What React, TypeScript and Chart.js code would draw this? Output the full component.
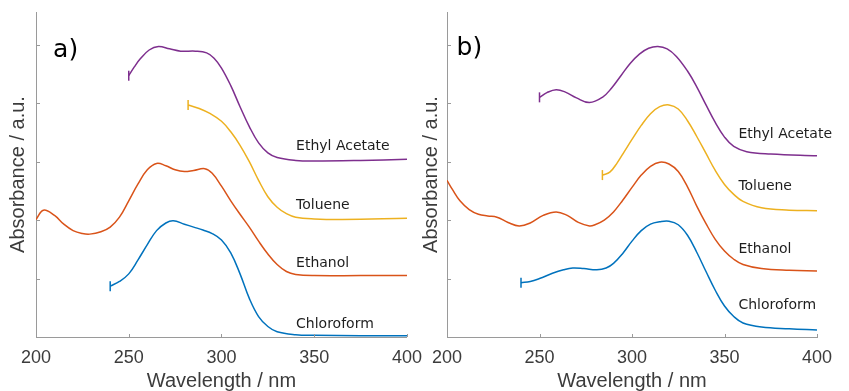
import React, { useEffect, useRef } from "react";
import { Chart, registerables } from "chart.js";

Chart.register(...registerables);

// Axis ticks shared by both panels
const WAVELENGTH_TICKS = [200, 250, 300, 350, 400];
const ABS_TICKS = [1, 2, 3, 4, 5];
const ABS_MAX = 5.56;

// ---- Panel a) spectra (wavelength in nm, stacked absorbance) ----
const A_CHLOROFORM_NM = [240, 245, 250, 255, 260, 265, 270, 274, 280, 285, 290, 295, 300, 305, 310, 315, 320, 325, 330, 340, 350, 375, 400];
const A_CHLOROFORM_ABS = [0.87, 0.95, 1.08, 1.32, 1.58, 1.82, 1.95, 1.99, 1.93, 1.88, 1.83, 1.77, 1.66, 1.44, 1.08, 0.66, 0.35, 0.18, 0.09, 0.04, 0.03, 0.02, 0.02];

const A_ETHANOL_NM = [200, 204, 210, 215, 220, 225, 229, 235, 240, 245, 250, 255, 260, 265, 270, 275, 280, 285, 291, 295, 300, 305, 310, 315, 320, 325, 330, 335, 340, 350, 375, 400];
const A_ETHANOL_ABS = [2.01, 2.17, 2.08, 1.93, 1.82, 1.77, 1.76, 1.80, 1.88, 2.05, 2.33, 2.62, 2.86, 2.97, 2.93, 2.86, 2.83, 2.85, 2.88, 2.80, 2.58, 2.33, 2.10, 1.88, 1.64, 1.42, 1.24, 1.12, 1.07, 1.05, 1.05, 1.05];

const A_TOLUENE_NM = [282, 288, 294, 300, 305, 310, 315, 320, 325, 330, 335, 340, 350, 365, 400];
const A_TOLUENE_ABS = [3.97, 3.91, 3.82, 3.69, 3.51, 3.28, 3.00, 2.68, 2.40, 2.22, 2.11, 2.05, 2.02, 2.01, 2.03];

const A_ETHYL_ACETATE_NM = [250, 253, 256, 261, 266, 272, 278, 286, 292, 296, 300, 305, 310, 315, 320, 325, 330, 340, 350, 375, 400];
const A_ETHYL_ACETATE_ABS = [4.47, 4.62, 4.75, 4.91, 4.97, 4.93, 4.89, 4.89, 4.86, 4.77, 4.60, 4.30, 3.94, 3.60, 3.32, 3.15, 3.07, 3.02, 3.01, 3.02, 3.04];

// ---- Panel b) spectra ----
const B_CHLOROFORM_NM = [240, 245, 250, 257, 263, 268, 274, 281, 286, 290, 295, 300, 305, 310, 315, 320, 325, 330, 335, 340, 345, 350, 355, 360, 370, 385, 400];
const B_CHLOROFORM_ABS = [0.93, 0.95, 1.0, 1.09, 1.15, 1.18, 1.17, 1.15, 1.18, 1.26, 1.43, 1.64, 1.82, 1.93, 1.97, 1.98, 1.92, 1.74, 1.45, 1.12, 0.80, 0.53, 0.35, 0.24, 0.17, 0.14, 0.12];

const B_ETHANOL_NM = [200, 203, 207, 212, 217, 222, 227, 233, 239, 245, 252, 259, 265, 271, 277, 280, 285, 290, 295, 300, 305, 310, 315, 320, 325, 330, 335, 340, 345, 350, 355, 360, 370, 385, 400];
const B_ETHANOL_ABS = [2.68, 2.52, 2.33, 2.18, 2.10, 2.07, 2.05, 1.96, 1.90, 1.95, 2.08, 2.14, 2.08, 1.96, 1.90, 1.92, 2.00, 2.14, 2.34, 2.56, 2.77, 2.92, 2.99, 2.96, 2.83, 2.57, 2.24, 1.94, 1.67, 1.47, 1.33, 1.24, 1.17, 1.14, 1.13];

const B_TOLUENE_NM = [284, 288, 292, 296, 300, 305, 310, 315, 320, 325, 330, 335, 340, 345, 350, 355, 360, 370, 385, 400];
const B_TOLUENE_ABS = [2.77, 2.82, 2.98, 3.18, 3.38, 3.62, 3.82, 3.94, 3.97, 3.90, 3.70, 3.43, 3.14, 2.85, 2.61, 2.44, 2.32, 2.21, 2.17, 2.16];

const B_ETHYL_ACETATE_NM = [250, 254, 259, 264, 270, 277, 284, 289, 294, 299, 304, 309, 314, 319, 324, 330, 335, 340, 345, 350, 355, 362, 375, 400];
const B_ETHYL_ACETATE_ABS = [4.10, 4.18, 4.23, 4.19, 4.09, 4.01, 4.10, 4.26, 4.47, 4.68, 4.84, 4.94, 4.97, 4.93, 4.80, 4.55, 4.28, 3.97, 3.67, 3.42, 3.26, 3.17, 3.13, 3.10];

// Solvent names, drawn beside each trace
const SOLVENTS = ["Ethyl Acetate", "Toluene", "Ethanol", "Chloroform"];
const A_LABEL_NM = 340.2;
const A_LABEL_ABS = [3.26, 2.25, 1.26, 0.22];
const B_LABEL_NM = 357.5;
const B_LABEL_ABS = [3.46, 2.57, 1.5, 0.54];

const COLORS: Record<string, string> = {
  Chloroform: "#0072BD",
  Ethanol: "#D95319",
  Toluene: "#EDB120",
  "Ethyl Acetate": "#7E2F8E",
};

const AXIS_COLOR = "#9a9a9a";
const TEXT_COLOR = "#3c3c3c";
const SANS = "'Liberation Sans', Arial, sans-serif";
const LABEL_FONT = "'DejaVu Sans', Verdana, sans-serif";

function series(label: string, nm: number[], abs: number[], cap: boolean) {
  const color = COLORS[label];
  return {
    label,
    data: nm.map((x, i) => ({ x, y: abs[i] })),
    borderColor: color,
    backgroundColor: color,
    borderWidth: 1.5,
    fill: false,
    tension: 0.4,
    pointStyle: "line" as const,
    pointRotation: 90,
    pointRadius: (ctx: any) => (cap && ctx.dataIndex === 0 ? 5 : 0),
    pointHoverRadius: 0,
    pointBorderColor: color,
    pointBorderWidth: 1.5,
  };
}

// Inward tick marks, solvent names and the panel letter
const panelDecor = {
  id: "panelDecor",
  afterDatasetsDraw(chart: any, _args: any, opts: any) {
    const { ctx } = chart;
    const x = chart.scales.x;
    const y = chart.scales.y;
    ctx.save();
    ctx.strokeStyle = AXIS_COLOR;
    ctx.lineWidth = 1;
    ctx.beginPath();
    WAVELENGTH_TICKS.forEach((v) => {
      const px = Math.round(x.getPixelForValue(v)) + 0.5;
      ctx.moveTo(px, y.bottom);
      ctx.lineTo(px, y.bottom - 3);
    });
    ABS_TICKS.forEach((v) => {
      const py = Math.round(y.getPixelForValue(v)) + 0.5;
      ctx.moveTo(x.left, py);
      ctx.lineTo(x.left + 4, py);
    });
    ctx.stroke();

    ctx.fillStyle = "#1e1e1e";
    ctx.font = `14px ${LABEL_FONT}`;
    ctx.textAlign = "left";
    ctx.textBaseline = "middle";
    SOLVENTS.forEach((name, i) => {
      ctx.fillText(name, x.getPixelForValue(opts.labelNm), y.getPixelForValue(opts.labelAbs[i]));
    });

    ctx.fillStyle = "#000";
    ctx.font = `25px ${LABEL_FONT}`;
    ctx.textBaseline = "alphabetic";
    ctx.fillText(opts.tag, x.getPixelForValue(opts.tagNm), y.getPixelForValue(opts.tagAbs));
    ctx.restore();
  },
};

type PanelProps = {
  left: number;
  width: number;
  rightPad: number;
  titleOffset: number;
  datasets: any[];
  labelNm: number;
  labelAbs: number[];
  tag: string;
  tagNm: number;
  tagAbs: number;
};

function Panel(p: PanelProps) {
  const ref = useRef<HTMLCanvasElement | null>(null);
  useEffect(() => {
    if (!ref.current) return;
    const chart = new Chart(ref.current, {
      type: "line",
      data: { datasets: p.datasets },
      options: {
        responsive: false,
        animation: false,
        events: [],
        layout: { padding: { top: 12, right: p.rightPad, left: 0, bottom: 0 } },
        plugins: {
          legend: { display: false },
          tooltip: { enabled: false },
          panelDecor: {
            labelNm: p.labelNm,
            labelAbs: p.labelAbs,
            tag: p.tag,
            tagNm: p.tagNm,
            tagAbs: p.tagAbs,
          },
        } as any,
        scales: {
          x: {
            type: "linear",
            min: 200,
            max: 400,
            afterBuildTicks: (s: any) => {
              s.ticks = WAVELENGTH_TICKS.map((value) => ({ value }));
            },
            afterFit: (s: any) => {
              s.height = 54;
            },
            grid: { display: false, drawTicks: false },
            border: { display: true, color: AXIS_COLOR, width: 1 },
            ticks: {
              color: TEXT_COLOR,
              font: { family: SANS, size: 18 },
              padding: 10,
              maxRotation: 0,
              autoSkip: false,
            },
            title: {
              display: true,
              text: "Wavelength / nm",
              color: TEXT_COLOR,
              font: { family: SANS, size: 20, lineHeight: 1 },
              padding: { top: 0, bottom: 0 },
            },
          },
          y: {
            type: "linear",
            min: 0,
            max: ABS_MAX,
            afterBuildTicks: (s: any) => {
              s.ticks = ABS_TICKS.map((value) => ({ value }));
            },
            afterFit: (s: any) => {
              s.width = 36;
            },
            grid: { display: false, drawTicks: false },
            border: { display: true, color: AXIS_COLOR, width: 1 },
            ticks: { display: false },
            title: {
              display: true,
              text: "Absorbance / a.u.",
              color: TEXT_COLOR,
              font: { family: SANS, size: 20, lineHeight: 1 },
              padding: { top: p.titleOffset, bottom: 0 },
            },
          },
        },
      },
      plugins: [panelDecor],
    });
    return () => chart.destroy();
  }, []);
  return (
    <canvas
      ref={ref}
      width={p.width}
      height={391}
      style={{ position: "absolute", left: p.left, top: 0, width: p.width, height: 391 }}
    />
  );
}

export default function App() {
  const datasetsA = [
    series("Chloroform", A_CHLOROFORM_NM, A_CHLOROFORM_ABS, true),
    series("Ethanol", A_ETHANOL_NM, A_ETHANOL_ABS, false),
    series("Toluene", A_TOLUENE_NM, A_TOLUENE_ABS, true),
    series("Ethyl Acetate", A_ETHYL_ACETATE_NM, A_ETHYL_ACETATE_ABS, true),
  ];
  const datasetsB = [
    series("Chloroform", B_CHLOROFORM_NM, B_CHLOROFORM_ABS, true),
    series("Ethanol", B_ETHANOL_NM, B_ETHANOL_ABS, false),
    series("Toluene", B_TOLUENE_NM, B_TOLUENE_ABS, true),
    series("Ethyl Acetate", B_ETHYL_ACETATE_NM, B_ETHYL_ACETATE_ABS, true),
  ];
  return (
    <div style={{ position: "absolute", left: 0, top: 0, width: 849, height: 391, background: "#fff", overflow: "hidden" }}>
      <Panel
        left={0}
        width={432}
        rightPad={0}
        titleOffset={8}
        datasets={datasetsA}
        labelNm={A_LABEL_NM}
        labelAbs={A_LABEL_ABS}
        tag="a)"
        tagNm={209.2}
        tagAbs={4.79}
      />
      <Panel
        left={411}
        width={438}
        rightPad={32}
        titleOffset={10.7}
        datasets={datasetsB}
        labelNm={B_LABEL_NM}
        labelAbs={B_LABEL_ABS}
        tag="b)"
        tagNm={205.2}
        tagAbs={4.82}
      />
    </div>
  );
}
